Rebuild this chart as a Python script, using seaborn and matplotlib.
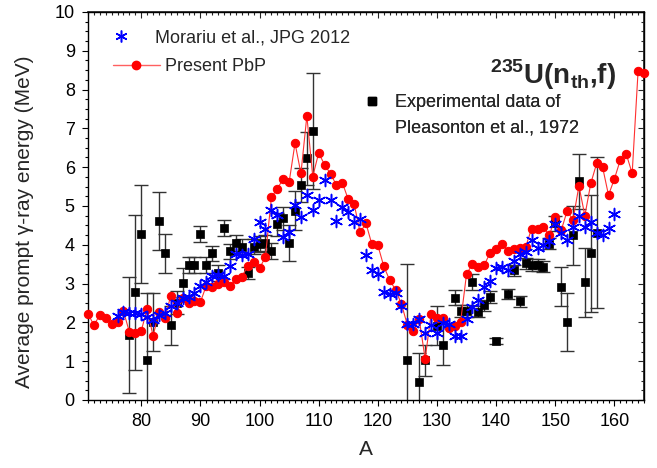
import matplotlib
matplotlib.use("Agg")
import matplotlib.pyplot as plt
import seaborn as sns
from matplotlib.lines import Line2D
from matplotlib.ticker import MultipleLocator

# ---------------- data ----------------
pbp_A = list(range(71, 166))
pbp_E = [2.22, 1.93, 2.19, 2.11, 1.96, 2.02, 2.29, 1.75, 1.72, 1.78,
         2.35, 1.65, 2.27, 2.11, 2.69, 2.24, 2.63, 2.51, 2.56, 2.52,
         2.95, 2.92, 2.99, 3.03, 2.94, 3.11, 3.18, 3.45, 3.55, 3.39,
         3.69, 5.22, 5.45, 5.69, 5.61, 6.62, 5.84, 7.32, 5.76, 6.37,
         6.06, 5.83, 5.54, 5.60, 5.17, 5.05, 4.32, 4.55, 4.01, 3.99,
         3.45, 3.09, 2.84, 2.47, 1.93, 1.78, 2.08, 1.06, 2.21, 2.11,
         2.11, 1.85, 1.92, 2.02, 3.25, 3.50, 3.42, 3.48, 3.80, 3.89,
         4.02, 3.85, 3.89, 3.92, 3.95, 4.42, 4.42, 4.45, 4.24, 4.72,
         4.37, 4.87, 4.64, 5.52, 4.75, 5.58, 6.10, 6.00, 5.28, 5.70,
         6.19, 6.34, 5.84, 8.48, 8.44]

mor_A = list(range(76, 161))
mor_E = [2.17, 2.27, 2.23, 2.25, 2.21, 2.15, 2.05, 2.19, 2.23, 2.41,
         2.49, 2.62, 2.66, 2.75, 2.94, 3.05, 3.20, 3.22, 3.20, 3.45,
         3.75, 3.73, 3.75, 4.15, 4.60, 4.42, 4.90, 4.77, 4.21, 4.34,
         5.03, 4.71, 5.28, 4.90, 5.15, 5.68, 5.16, 4.62, 4.97, 4.85,
         4.58, 4.66, 3.74, 3.35, 3.24, 2.78, 2.73, 2.75, 2.42, 1.96,
         1.96, 2.09, 1.73, 1.93, 1.72, 1.99, 1.95, 1.66, 1.66, 2.10,
         2.40, 2.58, 2.92, 3.07, 3.39, 3.44, 3.35, 3.59, 3.76, 3.82,
         4.13, 3.93, 4.00, 4.10, 4.54, 4.31, 4.13, 4.46, 4.74, 4.47,
         4.58, 4.30, 4.24, 4.43, 4.79]

exp_A = [78, 79, 80, 81, 82, 83, 84, 85, 86, 87,
         88, 89, 90, 91, 92, 93, 94, 95, 96, 97,
         98, 99, 100, 101, 102, 103, 104, 105, 106, 107,
         108, 109,
         125, 127, 128, 130, 131,
         133, 134, 135, 136, 137, 138, 139, 140,
         142, 143, 144, 145, 146, 147, 148, 149, 150, 151,
         152, 153, 154, 155, 156, 157]
exp_E = [1.68, 2.78, 4.28, 1.03, 2.02, 4.62, 3.78, 1.93, 2.51, 3.02,
         3.48, 3.48, 4.28, 3.48, 3.78, 3.27, 4.43, 3.83, 4.05, 3.95,
         3.28, 3.95, 4.02, 4.05, 3.84, 4.53, 4.68, 4.04, 4.88, 5.54,
         6.23, 6.93,
         1.03, 0.47, 1.03, 1.92, 1.43,
         2.64, 2.29, 2.29, 3.04, 2.28, 2.44, 2.65, 1.52,
         2.73, 3.34, 2.54, 3.52, 3.48, 3.48, 3.44, 4.03, 4.55, 2.92,
         2.02, 4.24, 5.64, 3.03, 3.78, 4.31]
exp_err = [1.50, 2.00, 1.26, 1.72, 0.75, 0.75, 0.50, 0.50, 0.30, 0.37,
           0.20, 0.20, 0.20, 0.20, 0.20, 0.20, 0.20, 0.20, 0.20, 0.20,
           0.15, 0.20, 0.20, 0.20, 0.20, 0.30, 0.30, 0.46, 0.50, 0.43,
           0.68, 1.50,
           2.47, 0.73, 0.40, 0.50, 0.54,
           0.20, 0.15, 0.15, 0.20, 0.15, 0.15, 0.15, 0.08,
           0.12, 0.15, 0.15, 0.15, 0.15, 0.15, 0.15, 0.15, 0.20, 0.50,
           0.75, 0.76, 0.71, 0.90, 1.50, 1.95]

x_ticks_major = 10
y_ticks_major = 1

# ---------------- style ----------------
sns.set_theme(style="ticks")
plt.rcParams["font.family"] = ["Liberation Sans", "DejaVu Sans"]
plt.rcParams["mathtext.fontset"] = "custom"
plt.rcParams["mathtext.rm"] = "Liberation Sans"
plt.rcParams["mathtext.bf"] = "Liberation Sans:bold"
plt.rcParams["legend.numpoints"] = 1

W, H = 657, 468
fig = plt.figure(figsize=(W / 100, H / 100), dpi=100)
ax = fig.add_axes([88 / W, 1 - 400 / H, 556 / W, 388 / H])

red = "#ff0000"
red_line = "#ff3030"
blue = "#0000ff"
star = (6, 2, 0)

# experimental error bars and squares
ax.errorbar(exp_A, exp_E, yerr=exp_err, fmt="none", ecolor="#333333",
            elinewidth=1.0, capsize=5.2, capthick=1.0, zorder=2)
sns.scatterplot(x=exp_A, y=exp_E, marker="s", s=34, color="black",
                edgecolor="black", linewidth=0.5, zorder=2.5, ax=ax)

# present PbP
sns.lineplot(x=pbp_A, y=pbp_E, color=red_line, linewidth=0.8, marker="o",
             markersize=6, markerfacecolor=red, markeredgecolor=red,
             zorder=3, clip_on=False, ax=ax)

# Morariu
sns.scatterplot(x=mor_A, y=mor_E, marker=star, s=75, color=blue,
                linewidth=1.1, zorder=4, ax=ax)

# ---------------- axes ----------------
ax.set_xlim(71, 165)
ax.set_ylim(0, 10)
ax.xaxis.set_major_locator(MultipleLocator(x_ticks_major))
ax.xaxis.set_minor_locator(MultipleLocator(1))
ax.yaxis.set_major_locator(MultipleLocator(y_ticks_major))
ax.yaxis.set_minor_locator(MultipleLocator(0.25))
ax.tick_params(which="both", direction="out", top=False, right=False,
               width=0.8, colors="black", labelsize=13)
ax.tick_params(which="major", length=4.5, pad=5)
ax.tick_params(which="minor", length=2.2)
for sp in ax.spines.values():
    sp.set_linewidth(1.0)
    sp.set_color("black")

secx = ax.secondary_xaxis("top")
secx.xaxis.set_major_locator(MultipleLocator(x_ticks_major))
secx.xaxis.set_minor_locator(MultipleLocator(1))
secx.tick_params(which="both", direction="in", labeltop=False, width=0.8)
secx.tick_params(which="major", length=4.5)
secx.tick_params(which="minor", length=2.2)
secy = ax.secondary_yaxis("right")
secy.yaxis.set_major_locator(MultipleLocator(y_ticks_major))
secy.yaxis.set_minor_locator(MultipleLocator(0.25))
secy.tick_params(which="both", direction="in", labelright=False, width=0.8)
secy.tick_params(which="major", length=4.5)
secy.tick_params(which="minor", length=2.2)

ax.set_ylabel("Average prompt γ-ray energy (MeV)", fontsize=15)
ax.yaxis.set_label_coords(-0.097, 0.459)
ax.set_xlabel("A", fontsize=15)
ax.xaxis.set_label_coords(0.5, -0.103)

# reaction label
ax.text(0.723, 0.815, r"$^{\mathbf{235}}\mathbf{U(n}_{\mathbf{th}}\mathbf{{,}f)}$",
        transform=ax.transAxes, fontsize=20, ha="left", va="baseline")

# ---------------- legends ----------------
fs = 13
h_mor = Line2D([], [], ls="none", marker=star, color=blue, markersize=8.5,
               markeredgewidth=1.1)
LA = ax.legend(handles=[h_mor], labels=["Morariu et al., JPG 2012"],
               loc="center left", bbox_to_anchor=(112 / W, 1 - 38 / H),
               bbox_transform=fig.transFigure, frameon=False, borderpad=0,
               borderaxespad=0, handlelength=1.0, handletextpad=1.39,
               fontsize=fs)
ax.add_artist(LA)

h_pbp = Line2D([], [], color="#ff6060", lw=1.0, marker="o", markersize=6,
               markerfacecolor=red, markeredgecolor=red)
LB = ax.legend(handles=[h_pbp], labels=["Present PbP"],
               loc="center left", bbox_to_anchor=(113 / W, 1 - 67 / H),
               bbox_transform=fig.transFigure, frameon=False, borderpad=0,
               borderaxespad=0, handlelength=2.6, handletextpad=0.28,
               fontsize=fs)
ax.add_artist(LB)

h_exp = Line2D([], [], ls="none", marker="s", color="black", markersize=6)
h_blank = Line2D([], [], ls="none", marker="none")
LC = ax.legend(handles=[h_exp, h_blank],
               labels=["Experimental data of", "Pleasonton et al., 1972"],
               loc="center left", bbox_to_anchor=(363 / W, 1 - 115 / H),
               bbox_transform=fig.transFigure, frameon=False, borderpad=0,
               borderaxespad=0, handlelength=1.0, handletextpad=0.78,
               labelspacing=0.45, fontsize=fs)
ax.add_artist(LC)

fig.savefig("out.png", dpi=100)
